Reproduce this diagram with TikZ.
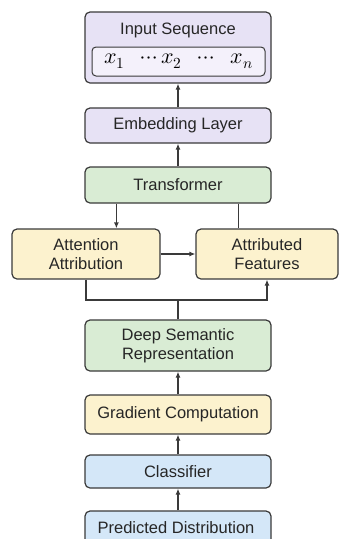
\documentclass[tikz,border=0pt]{standalone}
\usepackage{fontspec}
\usepackage{unicode-math}
\setmainfont{Liberation Sans}
\setmathfont{Latin Modern Math}
\usetikzlibrary{arrows.meta,calc}
\definecolor{purp}{HTML}{E7E2F5}
\definecolor{purpin}{HTML}{F4F1FB}
\definecolor{grn}{HTML}{D9ECD4}
\definecolor{ylw}{HTML}{FCF2CE}
\definecolor{blu}{HTML}{D4E7F8}
\definecolor{edge}{HTML}{3A3A3A}
\begin{document}
\begin{tikzpicture}[x=1pt,y=-1pt,
  box/.style={draw=edge,line width=1.2pt,rounded corners=5pt,minimum width=186pt,align=center,inner sep=0pt,
    font=\fontsize{16.5}{19.5}\selectfont,text=black!85},
  arr/.style={draw=edge,line width=1.2pt,-{Latex[length=6pt,width=5pt]}},
  ln/.style={draw=edge,line width=1.2pt}]
\useasboundingbox (0,0) rectangle (340,539);
\clip (0,0) rectangle (340,539);
% nodes
\node[box,fill=purp,minimum height=71pt] (inp) at (178,47.5) {};
\node[font=\fontsize{16.5}{19.5}\selectfont,text=black!85] (inptitle) at (178,30) {Input Sequence};
\node[box,fill=purpin,minimum width=173pt,minimum height=29pt,line width=1pt,rounded corners=4pt,
  font=\fontsize{22}{24}\selectfont,text=black] (seq) at (178.5,61.5)
  {$x_1\hspace{12pt}\cdots x_2\hspace{12pt}\cdots\hspace{12pt} x_n$};
\node[box,fill=purp,minimum height=35pt] (emb) at (178,125.5) {Embedding Layer};
\node[box,fill=grn,minimum height=36pt] (trans) at (178,185) {Transformer};
\node[box,fill=ylw,minimum width=148pt,minimum height=50pt] (attn) at (86,254) {Attention\\Attribution};
\node[box,fill=ylw,minimum width=142pt,minimum height=50pt] (attr) at (267,254) {Attributed\\Features};
\node[box,fill=grn,minimum height=51pt] (deep) at (178,345.5) {Deep Semantic\\Representation};
\node[box,fill=ylw,minimum height=39pt] (grad) at (178,414.5) {Gradient Computation};
\node[box,fill=blu,minimum height=33pt] (cls) at (178,471.5) {Classifier};
\node[box,fill=blu,minimum height=36pt] (pred) at (178,529) {};
\node[font=\fontsize{16.5}{19.5}\selectfont,text=black!85] (predtext) at (176,528) {Predicted Distribution};
\coordinate (j) at (178,300);
% connectors
\draw[arr] (emb.north) -- (inp.south);
\draw[arr] (trans.north) -- (emb.south);
\draw[arr] ([xshift=32pt]trans.south west) -- ([xshift=32pt]trans.south west |- attn.north);
\draw[ln] ([xshift=154pt]trans.south west) -- ([xshift=154pt]trans.south west |- attr.north);
\draw[arr] (attn.east) -- (attr.west);
\draw[arr] (attn.south) |- (attr.south |- j) -- (attr.south);
\draw[ln] (deep.north) -- (j);
\draw[arr] (grad.north) -- (deep.south);
\draw[arr] (cls.north) -- (grad.south);
\draw[arr] (pred.north) -- (cls.south);
\end{tikzpicture}
\end{document}
